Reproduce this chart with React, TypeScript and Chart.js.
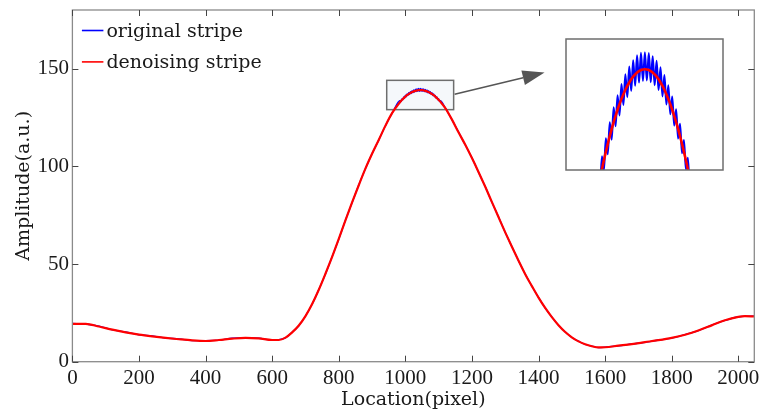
import React, { useEffect, useRef } from 'react';
import { Chart, registerables } from 'chart.js';

Chart.register(...registerables);

// ---------------- DATA ----------------
const seriesLabels = ['original stripe', 'denoising stripe'];
const xTitle = 'Location(pixel)';
const yTitle = 'Amplitude(a.u.)';

// left flank (pixels) and amplitudes
const leftLocations = [0, 40, 80, 120, 160, 200, 240, 280, 320, 360, 400, 440, 480, 520, 560, 600, 620, 640, 660, 680, 700, 720, 740, 760, 780, 800, 820, 840, 860, 880, 900, 920, 940, 960];
const leftDenoised = [19.4, 19.4, 18.0, 16.4, 15.0, 13.9, 13.0, 12.2, 11.5, 10.9, 10.6, 11.1, 11.8, 12.2, 11.9, 11.1, 11.1, 12.3, 15.0, 18.5, 23.3, 29.5, 36.8, 45.0, 53.6, 62.8, 72.3, 81.5, 90.3, 98.8, 106.4, 113.5, 120.7, 127.2];
const leftOriginal = [19.6, 19.3, 18.2, 16.3, 15.2, 13.8, 13.2, 12.1, 11.7, 10.8, 10.8, 11.0, 12.0, 12.3, 12.0, 11.0, 11.3, 12.2, 15.1, 18.4, 23.4, 29.4, 36.9, 44.9, 53.7, 62.7, 72.4, 81.4, 90.4, 98.7, 106.5, 113.4, 120.8, 127.1];

// peak region (dense sampling)
const peakLocations = [985, 987.5, 990, 992.5, 995, 997.5, 1000, 1002.5, 1005, 1007.5, 1010, 1012.5, 1015, 1017.5, 1020, 1022.5, 1025, 1027.5, 1030, 1032.5, 1035, 1037.5, 1040, 1042.5, 1045, 1047.5, 1050, 1052.5, 1055, 1057.5, 1060, 1062.5, 1065, 1067.5, 1070, 1072.5, 1075, 1077.5, 1080, 1082.5, 1085, 1087.5, 1090, 1092.5, 1095, 1097.5, 1100, 1102.5, 1105];
const peakDenoised = [133.1, 133.58, 134.04, 134.48, 134.9, 135.3, 135.68, 136.04, 136.38, 136.69, 136.99, 137.27, 137.52, 137.76, 137.98, 138.17, 138.34, 138.5, 138.63, 138.74, 138.84, 138.91, 138.96, 138.99, 139.0, 138.99, 138.96, 138.91, 138.84, 138.74, 138.63, 138.5, 138.34, 138.17, 137.98, 137.76, 137.52, 137.27, 136.99, 136.69, 136.38, 136.04, 135.68, 135.3, 134.9, 134.48, 134.04, 133.58, 133.1];
const peakOriginal = [133.68, 133.1, 134.68, 133.97, 135.57, 134.78, 136.37, 135.5, 137.11, 136.17, 137.71, 136.71, 138.27, 137.23, 138.75, 137.61, 139.14, 137.92, 139.45, 138.18, 139.69, 138.34, 139.82, 138.42, 139.84, 138.44, 139.8, 138.36, 139.65, 138.2, 139.42, 137.97, 139.1, 137.65, 138.71, 137.25, 138.21, 136.77, 137.65, 136.2, 137.02, 135.56, 136.29, 134.83, 135.49, 134.02, 134.61, 133.13, 133.66];

// right flank
const rightLocations = [1120, 1140, 1160, 1180, 1200, 1220, 1240, 1260, 1280, 1300, 1320, 1340, 1360, 1380, 1400, 1420, 1440, 1460, 1480, 1500, 1520, 1540, 1560, 1580, 1600, 1640, 1680, 1720, 1760, 1800, 1840, 1880, 1920, 1960, 2000, 2020, 2048];
const rightDenoised = [129.8, 123.9, 117.3, 111.0, 104.2, 97.0, 89.5, 81.7, 73.9, 66.2, 58.8, 51.7, 44.8, 38.7, 32.8, 27.5, 22.8, 18.7, 15.2, 12.5, 10.4, 8.9, 7.9, 7.3, 7.4, 8.2, 9.0, 10.0, 11.0, 12.2, 13.8, 16.0, 18.6, 21.2, 22.9, 23.3, 23.2];
const rightOriginal = [129.9, 123.8, 117.5, 110.9, 104.3, 96.9, 89.6, 81.6, 74.0, 66.1, 58.9, 51.6, 44.9, 38.6, 32.9, 27.4, 22.9, 18.6, 15.3, 12.4, 10.5, 8.8, 8.0, 7.2, 7.5, 8.1, 9.1, 9.9, 11.1, 12.1, 13.9, 15.9, 18.7, 21.1, 23.0, 23.2, 23.3];

// zoom annotation (data units)
const zoomBox = { xMin: 944, xMax: 1145, yMin: 129, yMax: 144 };
const insetRange = { xMin: 944, xMax: 1145, yMin: 134.0, yMax: 140.5 };
const arrowFrom = { x: 1148, y: 136.9 };
const arrowTo = { x: 1418, y: 148 };

// --------------- helpers ---------------
const FONT_TEXT = '"DejaVu Serif", serif';
const FONT_TICK = '"Liberation Serif", serif';
const BLUE = '#0000ff';
const RED = '#ff0000';
const AXIS = '#8a8a8a';
const TICK = '#444444';
const TEXT = '#1a1a1a';

const allLocations = [...leftLocations, ...peakLocations, ...rightLocations];
const allDenoised = [...leftDenoised, ...peakDenoised, ...rightDenoised];
const allOriginal = [...leftOriginal, ...peakOriginal, ...rightOriginal];
const toXY = (xs: number[], ys: number[]) => xs.map((x, i) => ({ x, y: ys[i] }));

function makeDatasets(wOrig: number, wDen: number) {
  return [
    {
      label: seriesLabels[0],
      data: toXY(allLocations, allOriginal),
      borderColor: BLUE,
      backgroundColor: BLUE,
      borderWidth: wOrig,
      pointRadius: 0,
      cubicInterpolationMode: 'monotone' as const,
      order: 1,
    },
    {
      label: seriesLabels[1],
      data: toXY(allLocations, allDenoised),
      borderColor: RED,
      backgroundColor: RED,
      borderWidth: wDen,
      pointRadius: 0,
      cubicInterpolationMode: 'monotone' as const,
      order: 0,
    },
  ];
}

const framePlugin = {
  id: 'frame',
  beforeDatasetsDraw(chart: any) {
    const { ctx, scales } = chart;
    const x = scales.x, y = scales.y;
    const l = x.getPixelForValue(zoomBox.xMin), r = x.getPixelForValue(zoomBox.xMax);
    const t = y.getPixelForValue(zoomBox.yMax), b = y.getPixelForValue(zoomBox.yMin);
    ctx.save();
    ctx.fillStyle = 'rgba(232,240,246,0.45)';
    ctx.fillRect(l, t, r - l, b - t);
    ctx.strokeStyle = '#6e6e6e';
    ctx.lineWidth = 1.5;
    ctx.strokeRect(l, t, r - l, b - t);
    ctx.restore();
  },
  afterDatasetsDraw(chart: any) {
    const { ctx, chartArea: ca, scales } = chart;
    const x = scales.x, y = scales.y;
    ctx.save();
    // frame
    ctx.strokeStyle = AXIS;
    ctx.lineWidth = 1.3;
    ctx.strokeRect(ca.left, ca.top, ca.right - ca.left, ca.bottom - ca.top);
    // inward ticks
    ctx.strokeStyle = TICK;
    ctx.lineWidth = 1;
    const tl = 6;
    x.ticks.forEach((tk: any) => {
      const px = Math.round(x.getPixelForValue(tk.value)) + 0.5;
      ctx.beginPath();
      ctx.moveTo(px, ca.bottom); ctx.lineTo(px, ca.bottom - tl);
      ctx.moveTo(px, ca.top); ctx.lineTo(px, ca.top + tl);
      ctx.stroke();
    });
    y.ticks.forEach((tk: any) => {
      const py = Math.round(y.getPixelForValue(tk.value)) + 0.5;
      ctx.beginPath();
      ctx.moveTo(ca.left, py); ctx.lineTo(ca.left + tl, py);
      ctx.moveTo(ca.right, py); ctx.lineTo(ca.right - tl, py);
      ctx.stroke();
    });
    // arrow
    const x1 = x.getPixelForValue(arrowFrom.x), y1 = y.getPixelForValue(arrowFrom.y);
    const x2 = x.getPixelForValue(arrowTo.x), y2 = y.getPixelForValue(arrowTo.y);
    const ang = Math.atan2(y2 - y1, x2 - x1);
    const hl = 22, hw = 7.5;
    const bx = x2 - hl * Math.cos(ang), by = y2 - hl * Math.sin(ang);
    ctx.strokeStyle = '#555555';
    ctx.fillStyle = '#555555';
    ctx.lineWidth = 1.5;
    ctx.beginPath();
    ctx.moveTo(x1, y1); ctx.lineTo(bx, by);
    ctx.stroke();
    ctx.beginPath();
    ctx.moveTo(x2, y2);
    ctx.lineTo(bx + hw * Math.sin(ang), by - hw * Math.cos(ang));
    ctx.lineTo(bx - hw * Math.sin(ang), by + hw * Math.cos(ang));
    ctx.closePath();
    ctx.fill();
    // legend
    const ds = chart.data.datasets;
    const rows = [ds[0], ds[1]];
    ctx.font = `19px ${FONT_TEXT}`;
    ctx.textBaseline = 'middle';
    ctx.textAlign = 'left';
    rows.forEach((d: any, i: number) => {
      const ry = ca.top + 20.5 + i * 31.4;
      ctx.strokeStyle = d.borderColor;
      ctx.lineWidth = 1.6;
      ctx.beginPath();
      ctx.moveTo(ca.left + 9.5, ry); ctx.lineTo(ca.left + 31, ry);
      ctx.stroke();
      ctx.fillStyle = TEXT;
      ctx.fillText(d.label, ca.left + 34, ry + 1.5);
    });
    ctx.restore();
  },
};

const insetFramePlugin = {
  id: 'insetFrame',
  afterDatasetsDraw(chart: any) {
    const { ctx, chartArea: ca } = chart;
    ctx.save();
    ctx.strokeStyle = '#6e6e6e';
    ctx.lineWidth = 1.5;
    ctx.strokeRect(ca.left, ca.top, ca.right - ca.left, ca.bottom - ca.top);
    ctx.restore();
  },
};

export default function App() {
  const mainRef = useRef<HTMLCanvasElement | null>(null);
  const insetRef = useRef<HTMLCanvasElement | null>(null);

  useEffect(() => {
    if (!mainRef.current || !insetRef.current) return;
    const main = new Chart(mainRef.current, {
      type: 'line',
      data: { datasets: makeDatasets(1.3, 2.2) as any },
      options: {
        animation: false,
        responsive: false,
        devicePixelRatio: 1,
        layout: { padding: { top: 10, right: 8.7, left: 0, bottom: 0 } },
        plugins: { legend: { display: false }, tooltip: { enabled: false } },
        scales: {
          x: {
            type: 'linear',
            min: 0,
            max: 2048,
            grid: { display: false, drawTicks: false },
            border: { display: false },
            ticks: {
              stepSize: 200,
              includeBounds: false,
              autoSkip: false,
              maxRotation: 0,
              padding: 4,
              color: TEXT,
              font: { family: FONT_TICK, size: 21 },
              callback: (v: any) => String(v),
            },
            title: {
              display: true,
              text: xTitle,
              color: TEXT,
              font: { family: FONT_TEXT, size: 19 },
              padding: { top: 0, bottom: 3 },
            },
            afterFit: (s: any) => {
              s.height = 52.3;
              s.paddingLeft = 0;
              s.paddingRight = 0;
            },
          },
          y: {
            type: 'linear',
            min: 0,
            max: 180,
            grid: { display: false, drawTicks: false },
            border: { display: false },
            ticks: {
              stepSize: 50,
              includeBounds: false,
              padding: 3.5,
              color: TEXT,
              font: { family: FONT_TICK, size: 21 },
              callback: (v: any) => String(v),
            },
            title: {
              display: true,
              text: yTitle,
              color: TEXT,
              font: { family: FONT_TEXT, size: 19 },
              padding: { top: 12.6, bottom: 0 },
            },
            afterFit: (s: any) => {
              s.width = 72.4;
              s.paddingTop = 0;
              s.paddingBottom = 0;
            },
          },
        },
      } as any,
      plugins: [framePlugin],
    });

    const inset = new Chart(insetRef.current, {
      type: 'line',
      data: { datasets: makeDatasets(2, 2.6) as any },
      options: {
        animation: false,
        responsive: false,
        devicePixelRatio: 1,
        layout: { padding: 1 },
        plugins: { legend: { display: false }, tooltip: { enabled: false } },
        scales: {
          x: { type: 'linear', display: false, min: insetRange.xMin, max: insetRange.xMax },
          y: { type: 'linear', display: false, min: insetRange.yMin, max: insetRange.yMax },
        },
      } as any,
      plugins: [insetFramePlugin],
    });

    return () => {
      main.destroy();
      inset.destroy();
    };
  }, []);

  return (
    <div style={{ position: 'absolute', left: 0, top: 0, width: 763, height: 414, background: '#ffffff' }}>
      <canvas ref={mainRef} width={763} height={414} style={{ position: 'absolute', left: 0, top: 0 }} />
      <canvas
        ref={insetRef}
        width={159}
        height={133}
        style={{ position: 'absolute', left: 565, top: 38, background: '#ffffff' }}
      />
    </div>
  );
}
